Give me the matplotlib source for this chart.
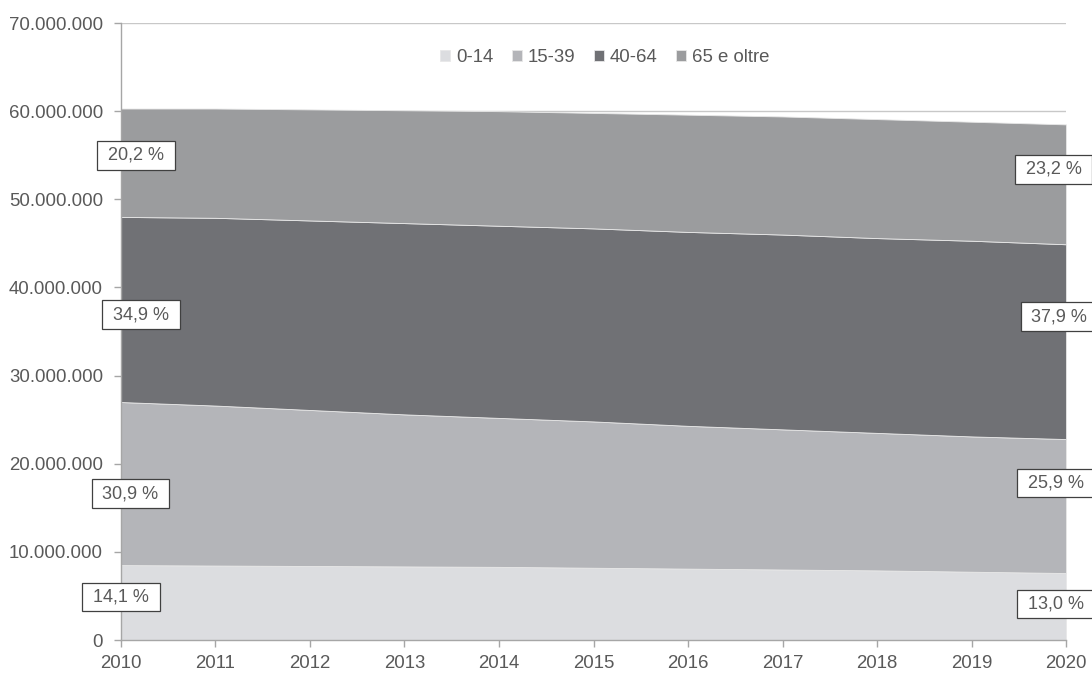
import matplotlib.pyplot as plt
from matplotlib.ticker import FuncFormatter

# ==================== dati (milioni di persone) ====================
anni = [2010, 2011, 2012, 2013, 2014, 2015, 2016, 2017, 2018, 2019, 2020]
eta_0_14 = [8.5, 8.45, 8.4, 8.35, 8.3, 8.2, 8.1, 8.0, 7.9, 7.75, 7.6]
eta_15_39 = [18.5, 18.15, 17.7, 17.25, 16.9, 16.6, 16.2, 15.9, 15.6, 15.35, 15.2]
eta_40_64 = [21.0, 21.3, 21.5, 21.7, 21.8, 21.9, 22.0, 22.1, 22.1, 22.2, 22.1]
eta_65_oltre = [12.3, 12.4, 12.6, 12.8, 13.0, 13.1, 13.3, 13.4, 13.5, 13.5, 13.6]

serie_nomi = ["0-14", "15-39", "40-64", "65 e oltre"]

# etichette percentuali: (x, y in milioni, testo)
etichette_sx = [(2010.16, 55.0, "20,2 %"), (2010.21, 36.9, "34,9 %"),
                (2010.10, 16.6, "30,9 %"), (2010.0, 4.9, "14,1 %")]
etichette_dx = [(2019.87, 53.4, "23,2 %"), (2019.93, 36.7, "37,9 %"),
                (2019.89, 17.8, "25,9 %"), (2019.89, 4.1, "13,0 %")]

# ==================== stile ====================
plt.rcParams['font.family'] = ['Liberation Sans', 'DejaVu Sans']
colori = ["#dcdde0", "#b4b5b9", "#707175", "#9b9c9e"]
grigio_testo = "#595959"
grigio_assi = "#a6a6a6"

fig = plt.figure(figsize=(10.92, 6.73), dpi=100)
ax = fig.add_axes([0.1108, 0.049, 0.8654, 0.9168])

valori = [[v * 1e6 for v in s] for s in (eta_0_14, eta_15_39, eta_40_64, eta_65_oltre)]
ax.stackplot(anni, *valori, colors=colori, labels=serie_nomi,
             edgecolor="#e8e8e8", linewidth=0.6, zorder=2)

ax.set_xlim(2010, 2020)
ax.set_ylim(0, 70e6)
ax.set_xticks(anni)
ax.set_yticks([i * 10e6 for i in range(8)])
ax.yaxis.set_major_formatter(FuncFormatter(lambda v, p: f"{int(round(v)):,}".replace(",", ".")))

ax.grid(axis="y", color="#c8c8c8", linewidth=1, zorder=0)
ax.set_axisbelow(True)
for lato in ["top", "right"]:
    ax.spines[lato].set_visible(False)
for lato in ["left", "bottom"]:
    ax.spines[lato].set_color(grigio_assi)
    ax.spines[lato].set_linewidth(1)
ax.tick_params(colors=grigio_assi, labelcolor=grigio_testo, labelsize=13.4, length=5, width=1)
ax.tick_params(axis="x", pad=6)
ax.tick_params(axis="y", pad=8)

leg = ax.legend(loc="upper center", bbox_to_anchor=(0.512, 0.985), ncol=4, frameon=False,
                fontsize=13.4, handlelength=0.55, handleheight=0.55, handletextpad=0.3,
                columnspacing=1.0, labelcolor=grigio_testo)

for x, y, testo in etichette_sx + etichette_dx:
    ax.text(x, y * 1e6, " " + testo + " ", ha="center", va="center", fontsize=13,
            color=grigio_testo,
            bbox=dict(boxstyle="square,pad=0.32", facecolor="white", edgecolor="#404040",
                      linewidth=0.9), zorder=5, clip_on=False)

fig.savefig("out.png", dpi=100)
